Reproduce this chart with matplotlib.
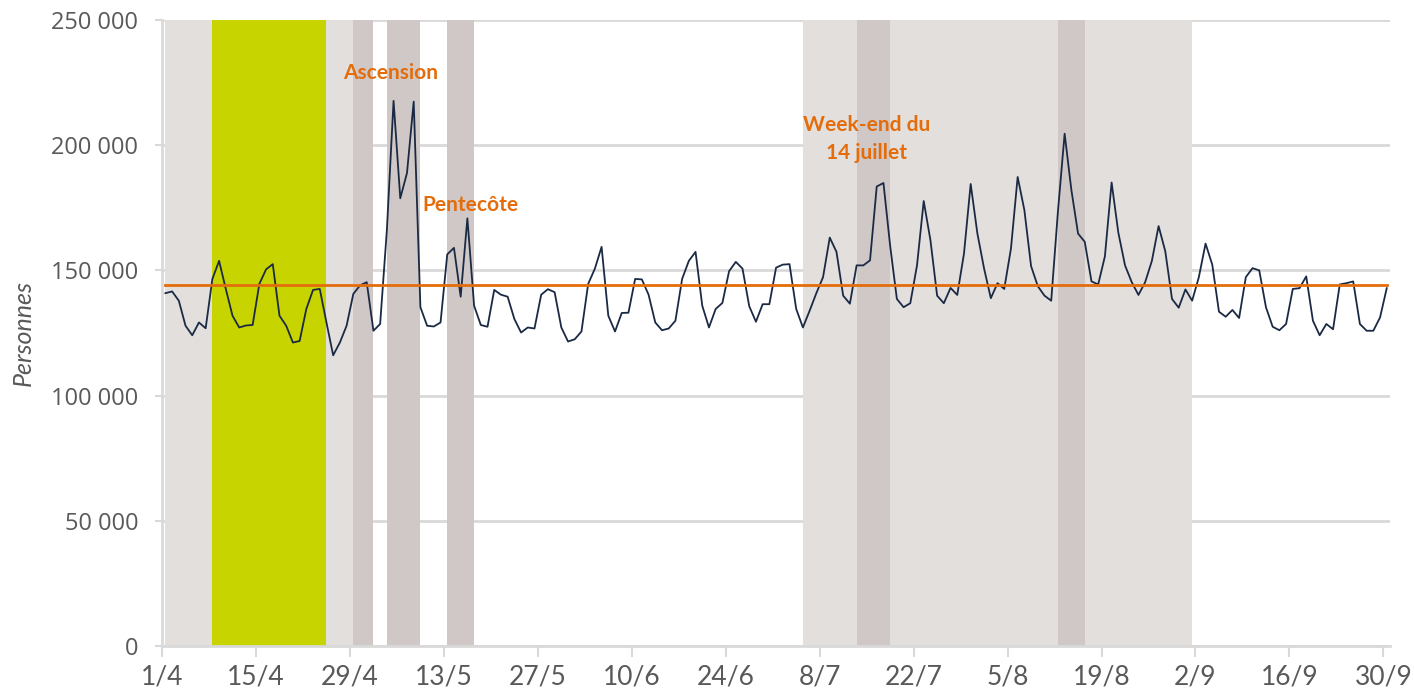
import matplotlib.pyplot as plt
from matplotlib.ticker import FuncFormatter

# fréquentation journalière, du 1/4 au 30/9 (en milliers de personnes)
daily_k = [
    140.9, 141.6, 137.9, 127.9, 124.1, 129.2, 126.9, 146.6, 153.8, 142.6,
    131.9, 127.2, 128.0, 128.2, 144.6, 150.4, 152.5, 131.9, 127.9, 121.2,
    121.8, 134.6, 142.2, 142.6, 129.2, 116.1, 121.2, 127.9, 140.6, 144.0,
    145.3, 125.9, 128.6, 166.0, 217.7, 178.8, 188.9, 217.4, 135.3, 127.9,
    127.6, 129.2, 156.4, 159.0, 139.5, 170.8, 135.9, 128.2, 127.5, 142.2,
    140.3, 139.5, 130.6, 125.2, 127.2, 126.8, 140.3, 142.5, 141.3, 127.2,
    121.6, 122.5, 125.6, 144.6, 150.7, 159.4, 131.9, 125.6, 133.0, 133.1,
    146.6, 146.4, 140.3, 129.2, 126.1, 126.8, 129.9, 146.6, 153.8, 157.4,
    135.9, 127.2, 134.6, 137.0, 149.7, 153.4, 150.7, 135.7, 129.5, 136.5,
    136.5, 151.1, 152.3, 152.5, 134.6, 127.2, 133.9, 140.9, 147.3, 163.1,
    157.4, 139.9, 136.7, 152.0, 152.0, 154.0, 183.5, 184.9, 159.8, 138.6,
    135.3, 136.9, 152.0, 177.7, 162.1, 139.9, 136.9, 143.0, 140.2, 156.7,
    184.5, 164.7, 150.7, 138.9, 144.9, 142.6, 158.7, 187.3, 174.1, 151.7,
    143.7, 139.9, 137.9, 173.5, 204.6, 182.2, 164.7, 161.4, 145.6, 144.4,
    155.6, 185.1, 165.1, 152.0, 145.3, 140.2, 145.3, 153.8, 167.7, 157.6,
    138.6, 135.1, 142.4, 137.9, 147.3, 160.7, 152.3, 133.5, 131.5, 134.2,
    131.0, 147.3, 150.9, 150.0, 135.3, 127.5, 126.1, 128.6, 142.6, 142.9,
    147.6, 129.9, 124.1, 128.6, 126.5, 144.4, 144.9, 145.6, 128.6, 125.9,
    125.9, 131.2, 142.9,
]
mean_value = 144000

# périodes (indice du jour de début, indice du jour de fin)
school_holidays = [(0, 28), (95, 153)]
spring_break = [(7, 24)]
long_weekends = [(28, 31), (33, 38), (42, 46), (103, 108), (133, 137)]

tick_days = [0, 14, 28, 42, 56, 70, 84, 98, 112, 126, 140, 154, 168, 182]
tick_labels = ['1/4', '15/4', '29/4', '13/5', '27/5', '10/6', '24/6',
               '8/7', '22/7', '5/8', '19/8', '2/9', '16/9', '30/9']

annotations = [
    ('Ascension', 33.5, 229000),
    ('Pentecôte', 45.5, 176000),
    ('Week-end du\n14 juillet', 104.5, 202500),
]

GRAY_TEXT = '#595959'
LIGHT_BAND = '#e2dfdd'
DARK_BAND = '#cfc8c6'
GREEN_BAND = '#c8d400'
ORANGE = '#e46c0a'
FONTS = ['Lato', 'DejaVu Sans']


def thousands(v, pos):
    return f"{int(v):,}".replace(',', ' ')


def main():
    values = [v * 1000 for v in daily_k]
    days = list(range(len(values)))

    fig = plt.figure(figsize=(14.14, 6.96), dpi=100)
    ax = fig.add_axes([0.1146, 0.0718, 0.8685, 0.8995])

    # fonds des périodes de vacances
    for s, e in school_holidays:
        ax.axvspan(s, e, color=LIGHT_BAND, lw=0, zorder=1)
    for s, e in spring_break:
        ax.axvspan(s, e, color=GREEN_BAND, lw=0, zorder=1.5)
    for s, e in long_weekends:
        ax.axvspan(s, e, color=DARK_BAND, lw=0, zorder=1.5)

    ax.plot(days, values, color='#1b2a44', lw=1.3, zorder=3)
    ax.plot([days[0], days[-1]], [mean_value, mean_value],
            color=ORANGE, lw=2, zorder=4)

    for text, x, y in annotations:
        ax.text(x, y, text, color=ORANGE, fontsize=15, fontweight='bold',
                family=FONTS, ha='center', va='center', linespacing=1.45,
                zorder=5)

    ax.set_xlim(-0.5, len(values) - 0.5)
    ax.set_ylim(0, 250000)
    ax.set_yticks(range(0, 250001, 50000))
    ax.yaxis.set_major_formatter(FuncFormatter(thousands))
    ax.set_xticks([d - 0.5 for d in tick_days])
    ax.set_xticklabels(tick_labels)

    ax.grid(axis='y', color='#d9d9d9', lw=2, zorder=0)
    ax.set_axisbelow(True)
    for side in ['top', 'right']:
        ax.spines[side].set_visible(False)
    for side in ['left', 'bottom']:
        ax.spines[side].set_color('#d9d9d9')
        ax.spines[side].set_linewidth(2)

    ax.tick_params(axis='y', length=5, width=1.5, color='#d9d9d9',
                   labelcolor=GRAY_TEXT, labelsize=17, pad=12)
    ax.tick_params(axis='x', length=8, width=1.5, color='#d9d9d9',
                   labelcolor=GRAY_TEXT, labelsize=19, pad=5)
    for lbl in ax.get_yticklabels():
        lbl.set_family('Open Sans')
    for lbl in ax.get_xticklabels():
        lbl.set_family(FONTS)

    ax.set_ylabel('Personnes', color=GRAY_TEXT, fontsize=18, style='italic',
                  family=FONTS)
    ax.yaxis.set_label_coords(-0.104, 0.5)

    plt.savefig('out.png')


if __name__ == "__main__":
    main()
